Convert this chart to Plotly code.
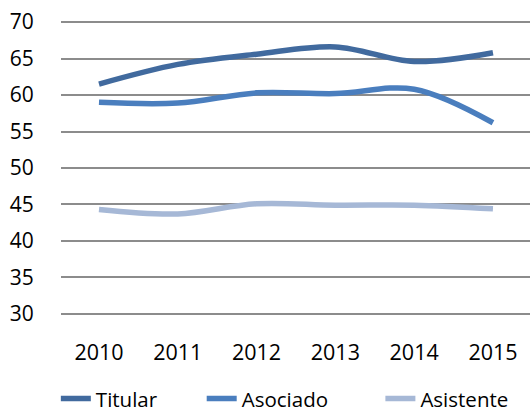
import plotly.graph_objects as go

years = ["2010", "2011", "2012", "2013", "2014", "2015"]
titular = [61.5, 64.2, 65.6, 66.6, 64.6, 65.8]
asociado = [59.0, 58.9, 60.3, 60.2, 60.8, 56.2]
asistente = [44.3, 43.7, 45.1, 44.9, 44.9, 44.4]

series = [
    ("Titular", titular, "#416A9E", "legend", -0.011),
    ("Asociado", asociado, "#4A7EBE", "legend2", 0.30),
    ("Asistente", asistente, "#A6B8D6", "legend3", 0.681),
]

font = "Open Sans, Liberation Sans, sans-serif"

fig = go.Figure()
legends = {}
for name, vals, color, lg, lx in series:
    fig.add_trace(go.Scatter(
        x=years, y=vals, name=name, mode="lines", legend=lg,
        line=dict(color=color, width=5.5, shape="spline", smoothing=1.0),
    ))
    legends[lg] = dict(orientation="h", x=lx, xanchor="left", y=-0.285, yanchor="middle",
                       font=dict(size=20.5), itemwidth=30, itemclick=False,
                       bgcolor="rgba(0,0,0,0)")

fig.update_layout(
    width=530, height=414,
    margin=dict(l=61, r=0, t=21, b=99, autoexpand=False),
    paper_bgcolor="white", plot_bgcolor="white",
    font=dict(family=font, size=21, color="#000000"),
    showlegend=True,
    xaxis=dict(type="category", range=[-0.482, 5.47], showgrid=False, zeroline=False,
               showline=False, ticks="outside", ticklen=18, tickcolor="rgba(0,0,0,0)",
               tickfont=dict(size=21.5), automargin=False),
    yaxis=dict(range=[29.85, 70.15], dtick=5, tick0=30, showgrid=True, gridcolor="#8C8C8C",
               gridwidth=2, zeroline=False, showline=False, ticks="outside", ticklen=22,
               tickcolor="rgba(0,0,0,0)", tickfont=dict(size=21), automargin=False),
    **legends,
)

fig.write_html("out.html", config={"displayModeBar": False},
               post_script="document.body.style.margin='0px';")
